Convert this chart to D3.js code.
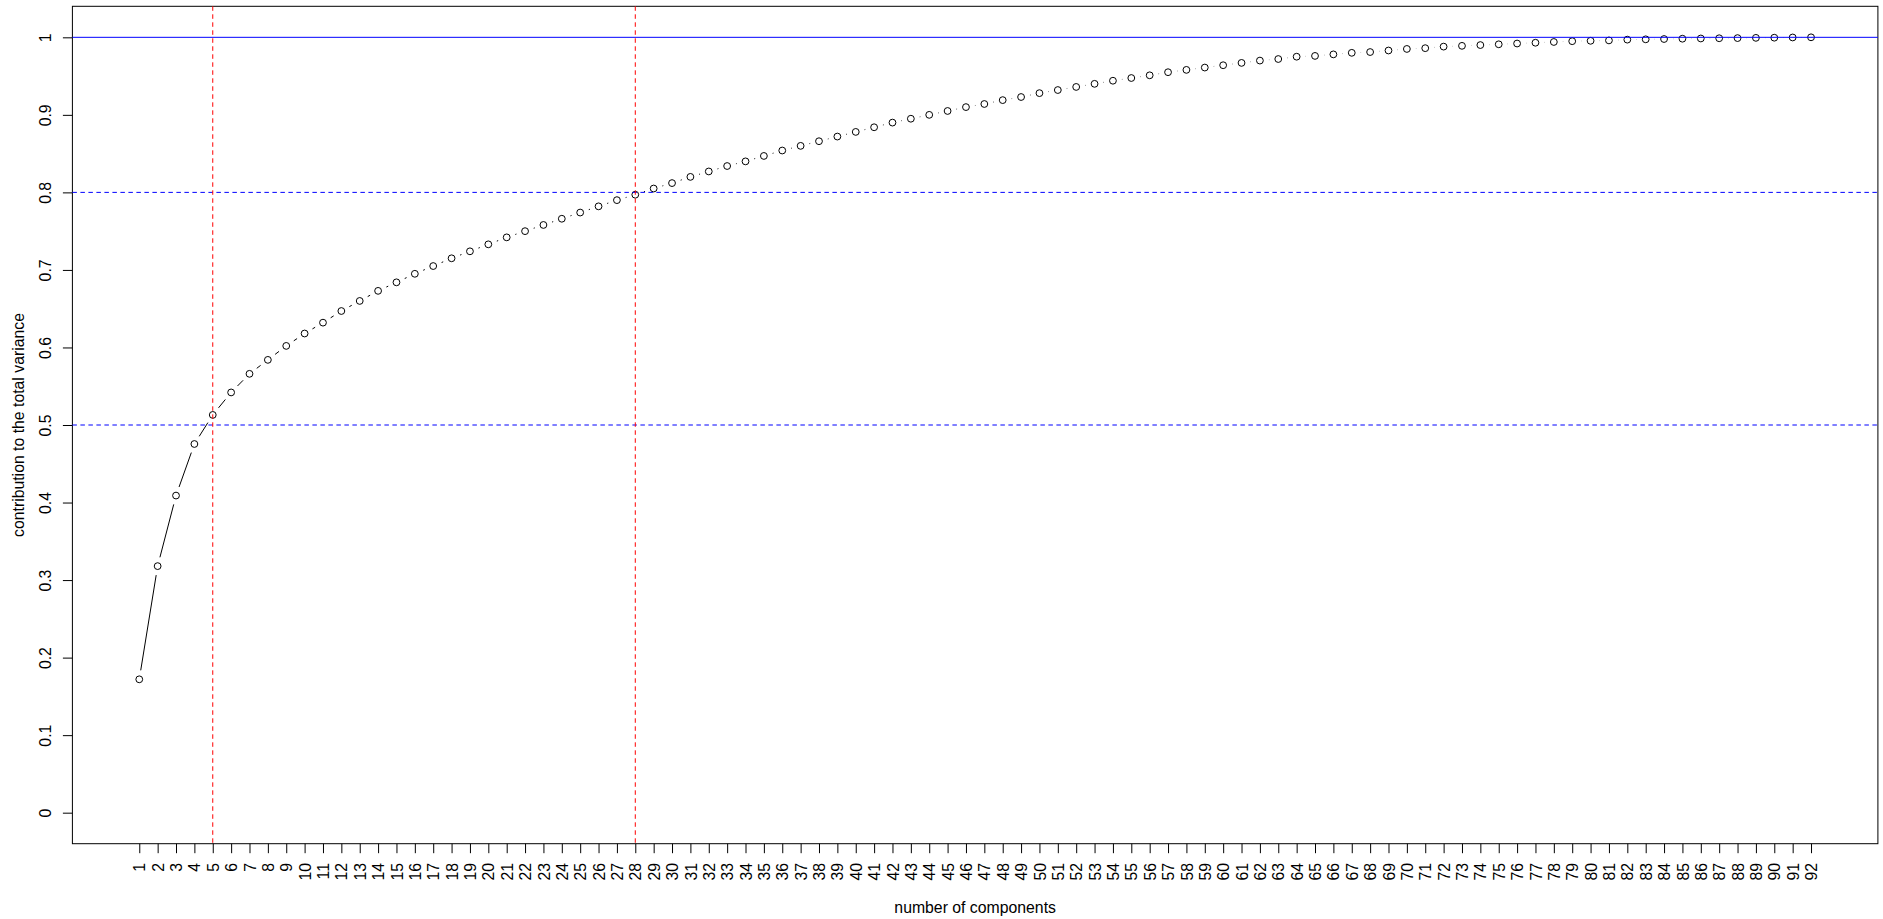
<!DOCTYPE html>
<html>
<head>
<meta charset="utf-8">
<script src="https://cdn.jsdelivr.net/npm/d3@7"></script>
<style>
  html, body { margin: 0; padding: 0; background: #fff; }
  svg { display: block; font-family: "Liberation Sans", Arial, sans-serif; }
</style>
</head>
<body>
<svg id="svg" width="1883" height="919"></svg>
<script>
// 主成分の番号
const components = [
  1, 2, 3, 4, 5, 6, 7, 8, 9, 10, 11, 12, 13, 14, 15, 16, 17, 18, 19, 20,
  21, 22, 23, 24, 25, 26, 27, 28, 29, 30, 31, 32, 33, 34, 35, 36, 37, 38, 39, 40,
  41, 42, 43, 44, 45, 46, 47, 48, 49, 50, 51, 52, 53, 54, 55, 56, 57, 58, 59, 60,
  61, 62, 63, 64, 65, 66, 67, 68, 69, 70, 71, 72, 73, 74, 75, 76, 77, 78, 79, 80,
  81, 82, 83, 84, 85, 86, 87, 88, 89, 90, 91, 92
];
// 累積寄与率
const cumVariance = [
  0.172, 0.318, 0.409, 0.4755, 0.513, 0.542, 0.566, 0.584, 0.602, 0.618,
  0.632, 0.647, 0.660, 0.673, 0.684, 0.695, 0.705, 0.715, 0.724, 0.733,
  0.742, 0.750, 0.758, 0.766, 0.774, 0.782, 0.790, 0.797, 0.805, 0.812,
  0.820, 0.827, 0.834, 0.840, 0.847, 0.854, 0.860, 0.866, 0.872, 0.878,
  0.884, 0.890, 0.895, 0.900, 0.905, 0.910, 0.914, 0.919, 0.923, 0.928,
  0.932, 0.936, 0.940, 0.944, 0.9475, 0.951, 0.955, 0.958, 0.961, 0.964,
  0.967, 0.970, 0.972, 0.975, 0.976, 0.978, 0.980, 0.981, 0.983, 0.985,
  0.986, 0.988, 0.989, 0.990, 0.991, 0.992, 0.993, 0.994, 0.995, 0.9955,
  0.996, 0.997, 0.9974, 0.9978, 0.9982, 0.9985, 0.9988, 0.999, 0.9993, 0.9995,
  0.9998, 1.0
];
// y軸の目盛り
const yTicks = [0, 0.1, 0.2, 0.3, 0.4, 0.5, 0.6, 0.7, 0.8, 0.9, 1];
// 補助線
const hDashed = [0.5, 0.8];
const hSolid = [1];
const vDashed = [5, 28];

const fontSize = "15.8px";
const dash = "4.5,3.5";

const svg = d3.select("#svg");

// プロット領域（Rの4%拡張を再現）
const plotLeft = 72.4, plotRight = 1877.9, plotTop = 6.3, plotBottom = 843.7;
const xPad = (d3.max(components) - d3.min(components)) * 0.04;
const x = d3
  .scaleLinear()
  .domain([d3.min(components) - xPad, d3.max(components) + xPad])
  .range([plotLeft, plotRight]);
const y = d3
  .scaleLinear()
  .domain([-0.04, 1.04])
  .range([plotBottom, plotTop]);

//x軸
const xAxis = svg
  .append("g")
  .attr("transform", `translate(0,${plotBottom})`)
  .call(d3.axisBottom(x).tickValues(components).tickSize(9.5).tickFormat(d3.format("d")));
xAxis.select(".domain").remove();
xAxis.selectAll("line").attr("stroke", "black");
xAxis
  .selectAll("text")
  .attr("fill", "black")
  .attr("font-size", fontSize)
  .attr("font-family", null)
  .attr("text-anchor", "end")
  .attr("transform", "rotate(-90)")
  .attr("x", -19.3)
  .attr("y", 5.6)
  .attr("dy", null);

//y軸
const yAxis = svg
  .append("g")
  .attr("transform", `translate(${plotLeft},0)`)
  .call(d3.axisLeft(y).tickValues(yTicks).tickSize(9.5).tickFormat((d) => String(d)));
yAxis.select(".domain").remove();
yAxis.selectAll("line").attr("stroke", "black");
yAxis
  .selectAll("text")
  .attr("fill", "black")
  .attr("font-size", fontSize)
  .attr("font-family", null)
  .attr("text-anchor", "middle")
  .attr("transform", "rotate(-90)")
  .attr("x", 0)
  .attr("y", -21.4)
  .attr("dy", null);

// 枠
svg
  .append("rect")
  .attr("x", plotLeft)
  .attr("y", plotTop)
  .attr("width", plotRight - plotLeft)
  .attr("height", plotBottom - plotTop)
  .attr("fill", "none")
  .attr("stroke", "black")
  .attr("stroke-width", 1);

// 軸ラベル
svg
  .append("text")
  .attr("x", (plotLeft + plotRight) / 2)
  .attr("y", 912.7)
  .attr("text-anchor", "middle")
  .attr("font-size", fontSize)
  .text("number of components");

svg
  .append("text")
  .attr("transform", `translate(24,${(plotTop + plotBottom) / 2}) rotate(-90)`)
  .attr("text-anchor", "middle")
  .attr("font-size", fontSize)
  .text("contribution to the total variance");

// type="b" の線（点の周りに隙間をあける）
const gap = 9.1;
const pts = components.map((c, i) => ({ px: x(c), py: y(cumVariance[i]) }));
const lineGroup = svg.append("g").attr("stroke", "black").attr("stroke-width", 1);
for (let i = 0; i < pts.length - 1; i++) {
  const p0 = pts[i];
  const p1 = pts[i + 1];
  const dx = p1.px - p0.px;
  const dy = p1.py - p0.py;
  const dist = Math.hypot(dx, dy);
  if (dist <= gap * 2) continue;
  const f = gap / dist;
  lineGroup
    .append("line")
    .attr("x1", p0.px + dx * f)
    .attr("y1", p0.py + dy * f)
    .attr("x2", p1.px - dx * f)
    .attr("y2", p1.py - dy * f);
}

// 点
svg
  .append("g")
  .selectAll("circle")
  .data(components)
  .join("circle")
  .attr("cx", (d) => x(d))
  .attr("cy", (d, i) => y(cumVariance[i]))
  .attr("r", 3.4)
  .attr("fill", "none")
  .attr("stroke", "black")
  .attr("stroke-width", 1);

// 補助線（水平）
svg
  .append("g")
  .selectAll("line")
  .data(hDashed)
  .join("line")
  .attr("x1", plotLeft)
  .attr("x2", plotRight)
  .attr("y1", (d) => y(d))
  .attr("y2", (d) => y(d))
  .attr("stroke", "blue")
  .attr("stroke-dasharray", dash);

svg
  .append("g")
  .selectAll("line")
  .data(hSolid)
  .join("line")
  .attr("x1", plotLeft)
  .attr("x2", plotRight)
  .attr("y1", (d) => y(d))
  .attr("y2", (d) => y(d))
  .attr("stroke", "blue");

// 補助線（垂直）
svg
  .append("g")
  .selectAll("line")
  .data(vDashed)
  .join("line")
  .attr("x1", (d) => x(d))
  .attr("x2", (d) => x(d))
  .attr("y1", plotTop)
  .attr("y2", plotBottom)
  .attr("stroke", "red")
  .attr("stroke-dasharray", dash);
</script>
</body>
</html>
